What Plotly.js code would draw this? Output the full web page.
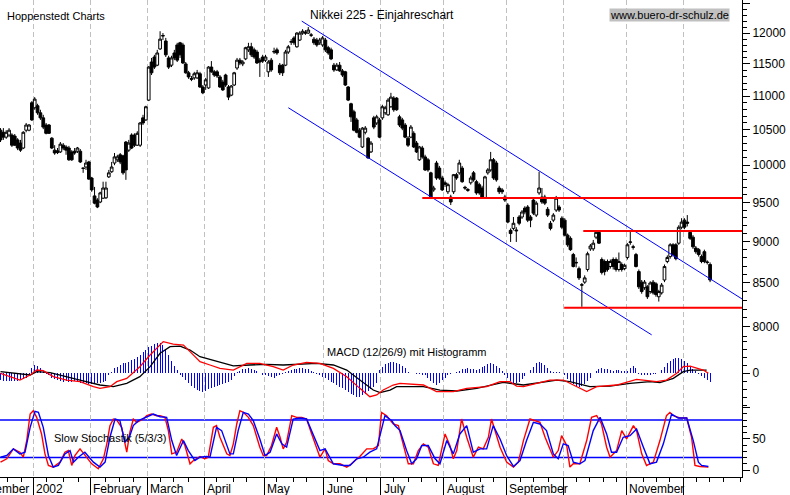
<!DOCTYPE html>
<html>
<head>
<meta charset="utf-8">
<script src="https://cdn.plot.ly/plotly-3.0.1.min.js"></script>
<style>html,body{margin:0;padding:0;background:#fff;}#chart{width:790px;height:495px;}</style>
</head>
<body>
<div id="chart"></div>
<script>
// ---- Daily Nikkei 225 candles (trading-day index 0..249, mid Dec 2001 .. mid Dec 2002)
const openP = [10495,10465,10395,10425,10425,10410,10355,10310,10240,10495,10495,10900,10825,10855,10750,10675,10570,10570,10380,10210,10200,10185,10280,10255,10240,10185,10195,10195,10195,9955,9975,10045,9825,9585,9530,9505,9555,9560,9840,9910,10030,10075,10145,10130,10325,10210,10425,10425,10280,10280,10675,10645,10940,11530,11610,11480,11740,11950,11870,11595,11480,11675,11805,11840,11805,11500,11360,11270,11280,11280,11345,11140,11170,11125,11450,11375,11375,11295,11215,11325,11140,11015,11170,11435,11560,11500,11580,11725,11775,11725,11690,11560,11610,11560,11375,11560,11690,11725,11480,11480,11480,11690,11850,11920,11775,11885,12000,12015,12000,11970,11900,11885,11840,11805,11885,11760,11725,11480,11405,11480,11390,11375,11140,10885,10765,10645,10495,10255,10465,10380,10185,10675,10600,10645,10675,10750,10720,10840,10970,10970,10690,10645,10570,10380,10395,10450,10310,10075,10240,10115,10075,9895,9665,10030,9960,9825,9760,9640,9570,9640,9870,9895,9960,9700,9670,9760,9895,9775,9735,9690,9555,9895,9935,10075,10030,9690,9665,9570,9465,9140,9165,9145,9310,9310,9425,9440,9310,9530,9335,9625,9570,9570,9410,9230,9270,9400,9440,9295,9270,9080,9040,8840,8745,8670,8480,8510,8660,8910,8910,9055,9115,8780,8755,8755,8695,8780,8780,8660,8720,8670,8805,8990,8935,8840,8635,8510,8445,8455,8400,8510,8490,8340,8385,8535,8755,8815,8960,8960,8980,9180,9270,9245,9115,9055,8920,8900,8815,8875,8750,8720];
const highP = [10525,10525,10495,10525,10450,10440,10380,10355,10480,10600,10585,10925,10985,10885,10795,10720,10600,10585,10395,10280,10240,10325,10310,10280,10270,10210,10240,10255,10225,9965,10075,10060,9840,9705,9555,9640,9775,9775,9935,10045,10170,10145,10170,10145,10340,10355,10450,10450,10480,10615,10720,10855,11465,11595,11645,11725,12030,12000,11920,11630,11630,11725,11840,11855,11840,11530,11390,11310,11375,11405,11375,11170,11280,11465,11545,11405,11405,11325,11250,11345,11170,11170,11375,11595,11595,11560,11775,11840,11840,11760,11725,11595,11645,11645,11560,11595,11760,11760,11515,11500,11725,11805,11900,11950,12015,12030,12065,12050,12100,12000,11935,11920,11920,11950,11920,11790,11760,11515,11515,11530,11420,11390,11155,10900,10795,10675,10525,10540,10555,10395,10340,10705,10720,10675,10870,10855,10970,11050,11000,10985,10720,10675,10600,10410,10570,10480,10340,10270,10270,10145,10100,9910,9720,10060,9990,9855,9790,9760,9600,9880,9895,10075,9990,9720,9690,9855,9920,9800,9760,9720,9855,9960,10185,10100,10060,9720,9690,9600,9490,9165,9310,9180,9335,9400,9450,9465,9335,9555,9515,9910,9690,9600,9440,9260,9360,9585,9465,9320,9295,9100,9065,8860,8805,8695,8500,8590,8875,8970,9020,9130,9130,8805,8780,8780,8780,8805,8805,8865,8745,8730,8980,9130,8960,8860,8660,8535,8535,8475,8520,8535,8510,8420,8500,8720,8830,8980,8980,8980,9205,9295,9295,9335,9140,9080,8945,8920,8840,8900,8770,8745];
const lowP = [10325,10355,10370,10395,10255,10270,10210,10185,10225,10465,10480,10630,10795,10720,10645,10510,10435,10440,10225,10145,10155,10170,10210,10145,10060,10060,10145,10170,10030,9895,9935,9800,9640,9475,9425,9490,9545,9545,9825,9895,10000,10045,10015,9870,9800,10185,10225,10255,10270,10255,10570,10630,10925,11325,11420,11465,11725,11885,11610,11420,11450,11560,11530,11595,11500,11345,11265,11230,11250,11265,11125,11030,11095,11110,11360,11295,11280,11125,11080,11140,10940,11000,11155,11405,11480,11465,11560,11690,11610,11580,11500,11295,11515,11530,11295,11375,11660,11645,11325,11310,11465,11660,11805,11805,11760,11870,11970,11970,11985,11935,11805,11775,11805,11775,11690,11645,11560,11375,11390,11375,11295,11155,10925,10615,10480,10450,10380,10240,10435,10090,10170,10510,10570,10380,10645,10720,10705,10825,10765,10780,10540,10495,10380,10255,10380,10240,10170,10060,10090,9920,9910,9545,9640,9800,9800,9650,9705,9610,9465,9610,9800,9870,9760,9665,9640,9735,9775,9600,9600,9545,9545,9870,9910,9800,9775,9610,9610,9505,9230,8995,9140,8995,9205,9285,9345,9245,9180,9335,9310,9600,9480,9465,9310,9140,9245,9375,9375,9155,9065,8935,8885,8685,8685,8535,8225,8490,8635,8885,8885,9030,8970,8600,8590,8635,8670,8660,8635,8635,8635,8650,8780,8960,8900,8685,8430,8375,8420,8315,8375,8365,8340,8285,8365,8510,8735,8790,8815,8770,8960,9155,9155,9190,9020,8910,8850,8815,8735,8735,8720,8510];
const closeP = [10355,10395,10465,10495,10280,10280,10240,10210,10465,10570,10570,10645,10955,10750,10675,10540,10450,10450,10240,10170,10175,10295,10240,10210,10075,10075,10170,10240,10045,9960,10030,9810,9665,9490,9440,9625,9690,9690,9895,9975,10115,10115,10045,9895,9935,10310,10240,10280,10450,10600,10600,10840,11450,11360,11450,11675,11900,11960,11645,11450,11595,11595,11560,11645,11515,11360,11295,11260,11345,11360,11140,11050,11250,11450,11375,11325,11310,11140,11095,11170,10985,11155,11360,11560,11515,11530,11760,11775,11645,11610,11515,11530,11545,11610,11530,11405,11700,11675,11360,11360,11690,11775,11860,11840,12000,12000,12030,12000,12050,11965,11840,11805,11885,11920,11725,11675,11580,11405,11480,11390,11325,11170,10940,10690,10495,10465,10395,10525,10525,10100,10310,10540,10690,10395,10840,10825,10940,10985,10795,10795,10570,10525,10395,10280,10540,10255,10185,10255,10115,9935,9935,9555,9690,9825,9825,9665,9740,9735,9505,9870,9825,10030,9775,9690,9660,9825,9800,9625,9625,9555,9840,9935,10075,9825,9800,9640,9640,9530,9245,9100,9230,9135,9230,9375,9375,9270,9270,9360,9490,9690,9505,9490,9335,9165,9335,9555,9400,9180,9080,8960,8900,8695,8740,8560,8475,8560,8850,8945,8980,9115,8980,8625,8635,8660,8755,8695,8660,8755,8660,8710,8960,8995,8930,8695,8455,8400,8510,8340,8500,8385,8365,8400,8475,8695,8805,8960,8840,8790,9180,9245,9180,9230,9040,8935,8875,8840,8755,8755,8745,8535];

// ---- MACD (12/26/9): histogram per trading day, lines read at sample points
const macdHist = [-90,-100,-95,-100,-105,-100,-95,-90,-80,-60,-40,60,100,90,60,20,-10,-30,-60,-80,-90,-100,-110,-100,-110,-110,-100,-110,-120,-130,-130,-140,-140,-140,-130,-120,-110,-100,-20,10,60,80,100,121,130,142,160,180,200,230,260,290,320,340,360,370,370,350,300,230,150,90,40,-20,-50,-90,-130,-160,-190,-210,-230,-233,-220,-200,-190,-180,-165,-150,-140,-130,-110,-90,-40,10,30,45,55,60,55,40,20,5,-20,-30,-40,-50,-60,-40,-30,-15,10,25,40,50,55,60,60,55,45,30,15,-10,-25,-45,-65,-90,-115,-130,-150,-170,-190,-215,-235,-260,-280,-296,-296,-280,-260,-230,-200,-170,-130,40,80,110,130,140,140,130,110,90,60,10,0,-5,-10,-15,-20,-30,-60,-100,-130,-150,-120,-90,-60,-30,-10,0,10,30,45,55,58,55,50,40,50,70,90,110,121,110,90,60,30,-20,-60,-100,-125,-129,-110,-80,-40,0,40,80,120,142,130,100,60,25,15,10,10,5,-30,-70,-110,-140,-160,-171,-165,-140,-100,-60,0,30,50,58,55,45,35,30,35,37,30,25,20,60,87,60,-10,-20,-25,-25,-20,-15,-10,-5,40,80,120,150,170,183,183,170,150,120,80,50,20,-10,-40,-60,-90,-108];
const macdX = [0,3.3,6.8,10.4,12.7,15.0,18.5,23.2,27.9,32.6,34.9,38.4,40.8,44.3,48.9,52.5,54.8,57.1,60.6,64.2,66.5,70.0,73.5,77.0,81.7,86.4,91.0,95.7,99.2,102.7,107.4,112.1,116.8,121.5,126.1,129.6,132.0,134.3,137.8,140.2,148.4,153.0,158.9,163.6,170.6,175.3,178.8,181.1,183.5,188.1,192.8,197.5,202.2,205.7,209.2,216.2,223.2,230.2,233.7,237.3,239.6,242.0,246.6,248.4];
const macdLine = [-4,-46,-88,-25,37,29,-46,-88,-108,-171,-192,-171,-108,-67,79,225,308,392,362,350,267,142,100,58,37,121,121,79,37,100,133,121,58,-46,-192,-296,-275,-213,-150,-129,-150,-233,-233,-192,-171,-108,-108,-163,-171,-129,-88,-88,-171,-233,-171,-150,-79,-108,-88,-4,79,87,37,-4];
const signalX = [0,10.4,12.7,17.4,27.9,34.9,39.6,44.3,48.9,52.5,56.0,59.5,63.0,66.5,70.0,75.8,81.7,87.5,93.4,99.2,105.1,110.9,116.8,121.5,126.1,130.8,133.2,136.7,139.0,148.4,154.2,160.1,167.1,171.8,176.4,183.5,189.3,195.2,199.8,206.8,213.9,220.9,227.9,231.4,236.1,239.6,242.0,247.8];
const signalLine = [17,-25,17,4,-88,-150,-171,-129,-46,79,246,329,337,287,204,142,88,100,108,100,112,121,100,37,-88,-213,-246,-213,-171,-171,-213,-225,-192,-150,-117,-150,-121,-88,-108,-171,-163,-129,-108,-121,-67,17,37,37];

// ---- Slow Stochastik (5/3/3), read at sample points
const stochKX = [0,2.2,4.5,6.8,8.0,9.2,10.4,11.5,12.7,14.4,15.6,16.8,18.5,20.9,22.6,23.8,25.0,26.1,27.9,29.6,32.0,34.3,36.1,37.3,38.4,39.6,40.8,42.5,44.3,45.4,46.6,47.8,48.9,50.1,51.3,53.0,54.8,56.0,57.7,58.9,60.1,61.8,63.6,64.7,66.5,67.7,70.0,71.7,72.9,74.7,75.8,77.0,79.4,80.5,81.7,82.9,84.0,85.2,87.0,88.7,91.0,92.2,93.4,95.1,96.9,98.1,99.2,100.4,102.2,103.9,105.7,107.4,109.2,110.9,112.1,113.9,115.0,116.8,119.1,121.5,123.2,124.4,126.1,128.5,130.8,132.6,133.7,135.5,137.8,139.6,141.4,143.1,144.9,146.6,148.4,150.1,151.9,153.6,156.0,157.7,158.9,160.1,161.8,163.6,165.9,167.7,169.4,171.2,172.3,173.5,175.3,177.6,180.0,181.7,183.5,185.8,187.5,189.3,191.1,194.0,195.7,196.9,198.7,199.8,201.0,203.3,205.7,207.4,209.2,210.9,212.7,213.9,216.2,218.0,219.7,222.1,223.2,225.0,226.7,229.1,231.4,233.7,234.9,236.1,238.4,240.8,242.5,243.7,245.4,247.2,248.4];
const stochK = [12.6,17.9,33.8,28.5,20.5,47.1,89.6,94.9,84.2,57.7,25.8,7.3,4.6,12.6,28.5,31.1,7.3,23.2,33.8,23.2,9.9,1.9,17.9,41.8,71.0,81.6,80.0,68.3,28.5,60.4,81.6,76.3,78.9,81.6,86.9,89.6,86.9,86.9,84.2,63.0,25.8,28.5,49.7,39.1,9.9,15.2,21.6,17.9,20.5,68.3,71.0,52.4,25.8,23.2,41.8,73.6,94.9,92.2,84.2,71.0,36.5,23.2,23.2,39.1,68.3,52.4,33.8,44.4,86.9,84.2,84.2,81.6,57.7,33.8,20.5,33.8,15.2,9.9,9.9,4.6,9.9,15.2,21.6,33.8,33.8,39.1,92.2,86.9,73.6,71.0,41.8,9.9,9.9,31.1,41.8,36.5,9.9,7.3,57.7,39.1,17.9,31.1,81.6,52.4,20.5,36.5,33.8,52.4,81.6,63.0,36.5,12.6,4.6,12.6,47.1,81.6,78.9,76.3,52.4,20.5,31.1,55.0,39.1,4.6,9.9,9.9,47.1,84.2,86.9,73.6,36.5,20.5,31.1,63.0,49.7,71.0,63.0,25.8,7.3,12.6,47.1,86.9,92.2,86.9,83.2,83.2,52.4,7.3,5.7,4.6,4.6];
const stochDX = [0,2.2,4.5,6.8,8.6,10.4,12.1,13.3,15.0,16.8,18.5,20.3,22.6,24.4,25.6,27.3,29.6,32.6,34.9,36.7,38.4,40.2,41.9,43.7,45.4,46.6,48.4,51.3,53.6,56.0,58.3,60.1,61.8,64.2,65.9,68.2,70.0,72.3,73.5,75.8,77.6,80.5,81.7,83.4,85.2,87.0,88.7,91.0,92.8,94.6,96.9,98.7,100.4,102.7,105.1,107.4,109.8,112.1,113.9,115.6,116.8,120.3,122.6,125.0,127.3,129.6,132.0,134.9,137.3,138.4,140.2,142.5,144.3,146.0,147.8,150.1,152.5,154.2,156.6,158.9,161.2,163.6,165.9,168.3,170.6,172.9,175.3,177.6,180.0,182.3,184.6,187.0,189.3,191.6,194.0,195.7,197.5,199.2,201.0,203.3,205.1,208.0,210.4,212.7,214.4,216.2,218.5,220.9,223.2,225.6,227.9,230.2,232.6,235.5,237.8,240.8,243.1,244.9,246.0,248.4];
const stochD = [20.5,23.2,33.8,25.8,28.5,68.3,93.8,92.2,68.3,23.2,4.6,7.3,25.8,31.1,12.6,20.5,28.5,12.6,4.6,12.6,52.4,81.6,78.9,44.4,55.0,71.0,78.9,84.2,89.6,85.3,84.2,47.1,23.2,47.1,31.1,15.2,20.5,21.6,20.5,68.3,63.0,25.8,25.8,63.0,92.2,89.6,78.9,49.7,23.2,28.5,57.7,41.8,36.5,81.6,83.2,81.6,55.0,31.1,33.8,20.5,9.9,7.3,7.3,17.9,20.5,28.5,33.8,86.9,78.9,71.0,63.0,31.1,9.9,17.9,39.1,39.1,17.9,9.9,47.1,25.8,57.7,71.0,28.5,33.8,33.8,71.0,49.7,23.2,5.7,15.2,47.1,76.3,73.6,63.0,25.8,17.9,41.8,39.1,12.6,9.9,15.2,63.0,84.2,57.7,28.5,28.5,52.4,55.0,65.7,36.5,9.9,12.6,41.8,89.6,83.2,83.2,47.1,12.6,7.3,5.7];
const stochLevels = [80, 20];

// ---- Trend channel and horizontal support/resistance lines (price panel)
const channelUpperX = [105.7, 260.2], channelUpperY = [12200, 8315];
const channelLowerX = [101.0, 228.5], channelLowerY = [10825, 7913];
const resist1X = [148.0, 260.2], resist1Y = [9556, 9556];
const resist2X = [204.5, 260.2], resist2Y = [9132, 9132];
const supportX = [197.8, 260.2], supportY = [8215, 8215];

// ---- Calendar: trading days per month (Dec 2001 part ... Dec 2002 part)
const monthDays = [12, 20, 20, 20, 21, 21, 20, 22, 22, 20, 22, 20, 10];
const monthLabels = ['2002', 'February', 'March', 'April', 'May', 'June', 'July', 'August', 'September', '', 'November', ''];
const weekTicks = [2.5,7.2,16.2,22.0,27.3,36.7,41.9,46.6,56.0,60.6,65.9,75.9,81.7,86.4,96.9,102.7,107.4,118.2,123.8,128.5,137.8,143.1,147.8,153.1,160.1,164.7,168.6,172.9,182.3,186.9,192.2,202.2,206.8,211.5,216.2,225.6,230.2,234.9,244.3,248.9,253.6,259.5];
const priceTicks = [8000,8500,9000,9500,10000,10500,11000,11500,12000,12500];

// ---------------------------------------------------------------
const idx = openP.map((_, i) => i);
const monthTicks = [];
let acc = 0;
for (let m = 0; m < monthDays.length - 1; m++) { acc += monthDays[m]; monthTicks.push(acc - 0.5); }

const priceMinor = [];
for (let v = 7900; v <= 12500; v += 100) if (v % 500 !== 0) priceMinor.push(v);
const macdMinor = [];
for (let v = -400; v <= 400; v += 100) if (v !== 0) macdMinor.push(v);
const stochMinor = [];
for (let v = 10; v <= 90; v += 10) if (v !== 50) stochMinor.push(v);

const F = 'Liberation Sans, Arial, sans-serif';
const traces = [
  {type:'bar', x: idx, y: macdHist, xaxis:'x', yaxis:'y2', width:0.35,
   marker:{color:'#0000ff', line:{width:0}}, hoverinfo:'skip'},
  {type:'scatter', mode:'lines', x: signalX, y: signalLine, xaxis:'x', yaxis:'y2',
   line:{color:'#000000', width:1.3}, hoverinfo:'skip'},
  {type:'scatter', mode:'lines', x: macdX, y: macdLine, xaxis:'x', yaxis:'y2',
   line:{color:'#ff0000', width:1.3}, hoverinfo:'skip'},
  {type:'scatter', mode:'lines', x: stochKX, y: stochK, xaxis:'x', yaxis:'y3',
   line:{color:'#ff0000', width:1.4}, hoverinfo:'skip'},
  {type:'scatter', mode:'lines', x: stochDX, y: stochD, xaxis:'x', yaxis:'y3',
   line:{color:'#0000ff', width:1.4}, hoverinfo:'skip'},
  {type:'scatter', mode:'lines', x: channelUpperX, y: channelUpperY, xaxis:'x', yaxis:'y',
   line:{color:'#0000ff', width:1}, hoverinfo:'skip'},
  {type:'scatter', mode:'lines', x: channelLowerX, y: channelLowerY, xaxis:'x', yaxis:'y',
   line:{color:'#0000ff', width:1}, hoverinfo:'skip'},
  {type:'scatter', mode:'lines', x: resist1X, y: resist1Y, xaxis:'x', yaxis:'y',
   line:{color:'#ff0000', width:2}, hoverinfo:'skip'},
  {type:'scatter', mode:'lines', x: resist2X, y: resist2Y, xaxis:'x', yaxis:'y',
   line:{color:'#ff0000', width:2}, hoverinfo:'skip'},
  {type:'scatter', mode:'lines', x: supportX, y: supportY, xaxis:'x', yaxis:'y',
   line:{color:'#ff0000', width:2}, hoverinfo:'skip'},
  {type:'candlestick', x: idx, open: openP, high: highP, low: lowP, close: closeP,
   xaxis:'x', yaxis:'y', whiskerwidth:0,
   increasing:{line:{color:'#000000', width:1}, fillcolor:'#ffffff'},
   decreasing:{line:{color:'#000000', width:1}, fillcolor:'#000000'},
   hoverinfo:'skip'}
];

const yCommon = {side:'right', anchor:'x', showline:true, linecolor:'#000', linewidth:1,
  ticks:'outside', ticklen:7, tickcolor:'#000', tickwidth:1, showgrid:false, zeroline:false,
  fixedrange:true, tickfont:{family:F, size:12, color:'#000'}};

const annotations = [
  {text:'Hoppenstedt Charts', xref:'paper', yref:'paper', x:5/742, y:(477-16)/477,
   xanchor:'left', yanchor:'middle', showarrow:false, font:{family:F, size:11, color:'#000'}},
  {text:'www.buero-dr-schulz.de', xref:'paper', yref:'paper', x:669.5/742, y:(477-14.5)/477,
   xanchor:'center', yanchor:'middle', showarrow:false, bgcolor:'#c0c0c0', borderpad:0,
   font:{family:F, size:11, color:'#000'}},
  {text:'MACD (12/26/9) mit Histogramm', xref:'paper', yref:'paper', x:325/742, y:(477-352)/477,
   xanchor:'left', yanchor:'middle', showarrow:false, font:{family:F, size:11, color:'#000'}},
  {text:'Slow Stochastik (5/3/3)', xref:'paper', yref:'paper', x:51.7/742, y:(477-437.7)/477,
   xanchor:'left', yanchor:'middle', showarrow:false, font:{family:F, size:11, color:'#000'}},
  {text:'December', xref:'paper', yref:'paper', x:0, xshift:31, y:(477-489)/477,
   xanchor:'right', yanchor:'middle', showarrow:false, font:{family:F, size:12, color:'#000'}}
];
monthTicks.forEach((t, k) => {
  if (monthLabels[k]) annotations.push({text: monthLabels[k], xref:'x', yref:'paper', x:t, xshift:1,
    y:(477-489)/477, xanchor:'left', yanchor:'middle', showarrow:false,
    font:{family:F, size:12, color:'#000'}});
});

const shapes = stochLevels.map(v => ({type:'line', xref:'paper', yref:'y3', x0:0, x1:1, y0:v, y1:v,
  line:{color:'#0000ff', width:1.5}, layer:'below'}));

const layout = {
  width:790, height:495,
  margin:{l:0, r:48, t:0, b:18, pad:0},
  paper_bgcolor:'#ffffff', plot_bgcolor:'#ffffff',
  showlegend:false, dragmode:false, hovermode:false,
  font:{family:F, size:12, color:'#000'},
  title:{text:'Nikkei 225 - Einjahreschart', xref:'container', yref:'container', x:381.7/790,
    xanchor:'center', y:1-15/495, yanchor:'middle', font:{family:F, size:12, color:'#000'}},
  bargap:0, boxgap:0.05, boxgroupgap:0,
  xaxis:{range:[-0.18, 260.2], anchor:'y3', showline:true, linecolor:'#000', linewidth:1,
    tickmode:'array', tickvals:monthTicks, ticktext:monthTicks.map(() => ''),
    ticks:'outside', ticklen:18, tickcolor:'#000', tickwidth:1,
    showgrid:true, gridcolor:'#c0c0c0', griddash:'5px,3px', gridwidth:1, zeroline:false,
    rangeslider:{visible:false}, fixedrange:true,
    minor:{tickmode:'array', tickvals:weekTicks, ticks:'outside', ticklen:4, tickcolor:'#000', showgrid:false}},
  yaxis:Object.assign({}, yCommon, {type:'log', domain:[0.2935, 1], range:[3.89705, 4.0990],
    tickmode:'array', tickvals:priceTicks, ticktext:priceTicks.map(v => v === 12500 ? '' : String(v)),
    minor:{tickmode:'array', tickvals:priceMinor, ticks:'outside', ticklen:4, tickcolor:'#000', showgrid:false}}),
  yaxis2:Object.assign({}, yCommon, {domain:[0.14675, 0.2935], range:[-425, 450],
    tickmode:'array', tickvals:[0], ticktext:['0'],
    minor:{tickmode:'array', tickvals:macdMinor, ticks:'outside', ticklen:4, tickcolor:'#000', showgrid:false}}),
  yaxis3:Object.assign({}, yCommon, {domain:[0, 0.14675], range:[-11.2, 100.8],
    tickmode:'array', tickvals:[0, 50, 100], ticktext:['0', '50', ''],
    minor:{tickmode:'array', tickvals:stochMinor, ticks:'outside', ticklen:4, tickcolor:'#000', showgrid:false}}),
  annotations: annotations,
  shapes: shapes
};

Plotly.newPlot('chart', traces, layout, {displayModeBar:false, staticPlot:true});
</script>
</body>
</html>
